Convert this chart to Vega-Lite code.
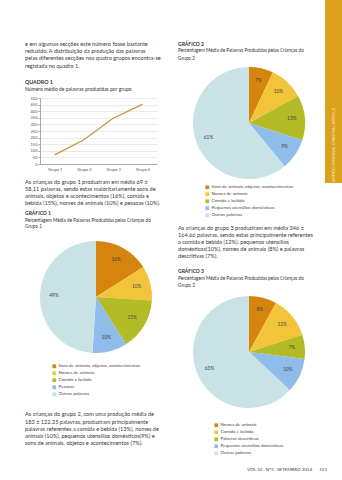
{
  "$schema": "https://vega.github.io/schema/vega-lite/v6.json",
  "background": "white",
  "padding": {"left": 25, "top": 0, "right": 0, "bottom": 0},
  "spacing": 11,
  "resolve": {"scale": {"color": "independent", "theta": "independent"}, "legend": {"color": "independent"}},
  "config": {
    "view": {"stroke": null},
    "font": "Lato",
    "legend": {"layout": {"bottom": {"anchor": "middle"}}},
    "axis": {"labelFont": "Lato", "labelColor": "#555"}
  },
  "hconcat": [
    {
      "spacing": 0,
      "resolve": {"scale": {"color": "independent", "theta": "independent"}, "legend": {"color": "independent"}},
      "vconcat": [
        {
          "width": 127, "height": 78.5,
          "data": {"values": [
            {"line": 1, "text": "e em algumas secções este número fosse bastante"},
            {"line": 2, "text": "reduzido. A distribuição da produção das palavras"},
            {"line": 3, "text": "pelas diferentes secções nos quatro grupos encontra-se"},
            {"line": 4, "text": "registada no quadro 1."}
          ]},
          "mark": {"type": "text", "align": "left", "baseline": "middle", "fontSize": 5.6, "color": "#3a3a3a"},
          "encoding": {
            "x": {"value": -15},
            "y": {"field": "line", "type": "quantitative", "scale": {"domain": [-5.2394, 5.8169], "reverse": true, "nice": false, "zero": false}, "axis": null},
            "text": {"field": "text"}
          }
        },
        {
          "width": 117, "height": 66,
          "title": {"text": "QUADRO 1", "subtitle": "Número médio de palavras produzidas por grupo", "anchor": "start", "frame": "group", "dx": -15, "fontSize": 5.3, "fontWeight": "bold", "subtitleFontSize": 5, "subtitlePadding": 2, "offset": 4, "color": "#333", "subtitleColor": "#333", "font": "Lato", "subtitleFont": "Lato"},
          "data": {"values": [
            {"grupo": "Grupo 1", "palavras": 69},
            {"grupo": "Grupo 2", "palavras": 183},
            {"grupo": "Grupo 3", "palavras": 346},
            {"grupo": "Grupo 4", "palavras": 452}
          ]},
          "mark": {"type": "line", "color": "#C8923C", "strokeWidth": 1.2},
          "encoding": {
            "x": {"field": "grupo", "type": "ordinal", "scale": {"type": "point", "padding": 0.5},
                  "axis": {"title": null, "labelAngle": 0, "labelFontSize": 4, "ticks": false, "labelPadding": 3, "domainColor": "#aaa", "grid": false}},
            "y": {"field": "palavras", "type": "quantitative", "scale": {"domain": [0, 500], "nice": false},
                  "axis": {"title": null, "values": [0, 50, 100, 150, 200, 250, 300, 350, 400, 450, 500], "labelFontSize": 4, "tickSize": 2, "tickColor": "#aaa", "labelPadding": 1, "domainColor": "#aaa", "gridDash": [1, 1], "gridColor": "#bbb", "gridWidth": 0.6}}
          }
        },
        {
          "width": 127, "height": 39,
          "data": {"values": [
            {"line": 1, "text": "As crianças do grupo 1 produziram em média 69 ±"},
            {"line": 2, "text": "58.11 palavras, sendo estas maioritariamente sons de"},
            {"line": 3, "text": "animais, objetos e acontecimentos (16%), comida e"},
            {"line": 4, "text": "bebida (15%), nomes de animais (10%) e pessoas (10%)."}
          ]},
          "mark": {"type": "text", "align": "left", "baseline": "middle", "fontSize": 5.6, "color": "#3a3a3a"},
          "encoding": {
            "x": {"value": -15},
            "y": {"field": "line", "type": "quantitative", "scale": {"domain": [-0.5493, 4.9437], "reverse": true, "nice": false, "zero": false}, "axis": null},
            "text": {"field": "text"}
          }
        },
        {
          "width": 112, "height": 112,
          "title": {"text": "GRÁFICO 1", "subtitle": ["Percentagem Média de Palavras Produzidas pelas Crianças do", "Grupo 1"], "anchor": "start", "frame": "group", "dx": -15, "fontSize": 5, "fontWeight": "bold", "subtitleFontSize": 4.7, "subtitleLineHeight": 6.7, "subtitlePadding": 1.9, "offset": 12, "color": "#333", "subtitleColor": "#333", "font": "Lato", "subtitleFont": "Lato"},
          "data": {"values": [
            {"categoria": "Sons de animais, objetos, acontecimentos", "share": 0.16, "k": 1},
            {"categoria": "Nomes de animais", "share": 0.10, "k": 2},
            {"categoria": "Comida e bebida", "share": 0.15, "k": 3},
            {"categoria": "Pessoas", "share": 0.10, "k": 4},
            {"categoria": "Outras palavras", "share": 0.49, "k": 5}
          ]},
          "encoding": {
            "theta": {"field": "share", "type": "quantitative", "stack": true},
            "order": {"field": "k", "type": "quantitative"}
          },
          "layer": [
            {
              "mark": {"type": "arc"},
              "encoding": {
                "color": {"field": "categoria", "type": "nominal",
                  "scale": {"domain": ["Sons de animais, objetos, acontecimentos", "Nomes de animais", "Comida e bebida", "Pessoas", "Outras palavras"], "range": ["#D5850E", "#F2C43A", "#B3BC27", "#8FBCE9", "#C9E2E6"]},
                  "legend": {"orient": "bottom", "direction": "vertical", "title": null, "symbolType": "square", "symbolSize": 14, "symbolStrokeWidth": 0, "labelFontSize": 4.5, "labelFont": "Lato", "labelColor": "#444", "rowPadding": 1, "offset": 10.5, "padding": 0, "labelOffset": 2, "labelLimit": 200}}
              }
            },
            {
              "mark": {"type": "text", "radius": 42, "fontSize": 4.8, "color": "#444"},
              "encoding": {"text": {"field": "share", "type": "quantitative", "format": ".0%"}}
            }
          ]
        },
        {
          "width": 127, "height": 50,
          "data": {"values": [
            {"line": 1, "text": "As crianças do grupo 2, com uma produção média de"},
            {"line": 2, "text": "183 ± 122.25 palavras,   produziram principalmente"},
            {"line": 3, "text": "palavras referentes a comida e bebida (13%), nomes de"},
            {"line": 4, "text": "animais (10%), pequenos utensílios domésticos(9%) e"},
            {"line": 5, "text": "sons de animais, objetos e acontecimentos (7%)."}
          ]},
          "mark": {"type": "text", "align": "left", "baseline": "middle", "fontSize": 5.6, "color": "#3a3a3a"},
          "encoding": {
            "x": {"value": -15},
            "y": {"field": "line", "type": "quantitative", "scale": {"domain": [-1.3862, 5.5104], "reverse": true, "nice": false, "zero": false}, "axis": null},
            "text": {"field": "text"}
          }
        }
      ]
    },
    {
      "spacing": 0,
      "resolve": {"scale": {"color": "independent", "theta": "independent"}, "legend": {"color": "independent"}},
      "vconcat": [
        {
          "spacing": 5,
          "resolve": {"scale": {"color": "independent", "theta": "independent"}, "legend": {"color": "independent"}},
          "hconcat": [
            {
              "spacing": 0,
              "resolve": {"scale": {"color": "independent", "theta": "independent"}, "legend": {"color": "independent"}},
              "vconcat": [
                {
                  "width": 142, "height": 67,
                  "data": {"values": [
                    {"line": 1, "text": "GRÁFICO 2", "role": "heading"},
                    {"line": 2, "text": "Percentagem Média de Palavras Produzidas pelas Crianças do", "role": "subtitle"},
                    {"line": 3, "text": "Grupo 2", "role": "subtitle"}
                  ]},
                  "encoding": {
                    "x": {"value": 0},
                    "y": {"field": "line", "type": "quantitative", "scale": {"domain": [-4.8667, 4.0667], "reverse": true, "nice": false, "zero": false}, "axis": null},
                    "text": {"field": "text"}
                  },
                  "layer": [
                    {"transform": [{"filter": "datum.role === 'heading'"}], "mark": {"type": "text", "align": "left", "baseline": "middle", "fontSize": 5, "fontWeight": "bold", "color": "#333"}},
                    {"transform": [{"filter": "datum.role === 'subtitle'"}], "mark": {"type": "text", "align": "left", "baseline": "middle", "fontSize": 4.7, "color": "#333"}}
                  ]
                },
                {
                  "width": 142, "height": 112,
                  "data": {"values": [
                    {"categoria": "Sons de animais, objetos, acontecimentos", "share": 0.07, "k": 1},
                    {"categoria": "Nomes de animais", "share": 0.10, "k": 2},
                    {"categoria": "Comida e bebida", "share": 0.13, "k": 3},
                    {"categoria": "Pequenos utensílios domésticos", "share": 0.09, "k": 4},
                    {"categoria": "Outras palavras", "share": 0.61, "k": 5}
                  ]},
                  "encoding": {
                    "theta": {"field": "share", "type": "quantitative", "stack": true},
                    "order": {"field": "k", "type": "quantitative"}
                  },
                  "layer": [
                    {
                      "mark": {"type": "arc"},
                      "encoding": {
                        "color": {"field": "categoria", "type": "nominal",
                          "scale": {"domain": ["Sons de animais, objetos, acontecimentos", "Nomes de animais", "Comida e bebida", "Pequenos utensílios domésticos", "Outras palavras"], "range": ["#D5850E", "#F2C43A", "#B3BC27", "#8FBCE9", "#C9E2E6"]},
                          "legend": {"orient": "bottom", "direction": "vertical", "title": null, "symbolType": "square", "symbolSize": 14, "symbolStrokeWidth": 0, "labelFontSize": 4.5, "labelFont": "Lato", "labelColor": "#444", "rowPadding": 1, "offset": 6, "padding": 0, "labelOffset": 2, "labelLimit": 200}}
                      }
                    },
                    {
                      "mark": {"type": "text", "radius": 43, "fontSize": 4.8, "color": "#444"},
                      "encoding": {"text": {"field": "share", "type": "quantitative", "format": ".0%"}}
                    }
                  ]
                }
              ]
            },
            {
              "width": 17, "height": 183,
              "data": {"values": [{"rotulo": "ARTIGO ORIGINAL  ORIGINAL ARTICLE"}]},
              "layer": [
                {"mark": {"type": "rect", "color": "#DBA11B"}, "encoding": {}},
                {"mark": {"type": "text", "angle": 270, "fontSize": 4.2, "color": "#FFF4D6", "align": "center", "baseline": "middle"},
                 "encoding": {"text": {"field": "rotulo"}, "x": {"value": 8.5}, "y": {"value": 145}}}
              ]
            }
          ]
        },
        {
          "width": 142, "height": 49.3,
          "data": {"values": [
            {"line": 1, "text": "As crianças do grupo 3 produziram em média  346 ±"},
            {"line": 2, "text": "164.66 palavras, sendo estas principalmente referentes"},
            {"line": 3, "text": "a comida e bebida (12%), pequenos utensílios"},
            {"line": 4, "text": "domésticos(10%), nomes de animais (8%) e palavras"},
            {"line": 5, "text": "descritivas (7%)."}
          ]},
          "mark": {"type": "text", "align": "left", "baseline": "middle", "fontSize": 5.6, "color": "#3a3a3a"},
          "encoding": {
            "x": {"value": 0},
            "y": {"field": "line", "type": "quantitative", "scale": {"domain": [-0.3759, 6.617], "reverse": true, "nice": false, "zero": false}, "axis": null},
            "text": {"field": "text"}
          }
        },
        {
          "width": 142, "height": 112,
          "title": {"text": "GRÁFICO 3", "subtitle": ["Percentagem Média de Palavras Produzidas pelas Crianças do", "Grupo 3"], "anchor": "start", "frame": "group", "fontSize": 5, "fontWeight": "bold", "subtitleFontSize": 4.7, "subtitleLineHeight": 7, "subtitlePadding": 2.4, "offset": 8.4, "color": "#333", "subtitleColor": "#333", "font": "Lato", "subtitleFont": "Lato"},
          "data": {"values": [
            {"categoria": "Nomes de animais", "share": 0.08, "k": 1},
            {"categoria": "Comida e bebida", "share": 0.12, "k": 2},
            {"categoria": "Palavras descritivas", "share": 0.07, "k": 3},
            {"categoria": "Pequenos utensílios domésticos", "share": 0.10, "k": 4},
            {"categoria": "Outras palavras", "share": 0.63, "k": 5}
          ]},
          "encoding": {
            "theta": {"field": "share", "type": "quantitative", "stack": true},
            "order": {"field": "k", "type": "quantitative"}
          },
          "layer": [
            {
              "mark": {"type": "arc"},
              "encoding": {
                "color": {"field": "categoria", "type": "nominal",
                  "scale": {"domain": ["Nomes de animais", "Comida e bebida", "Palavras descritivas", "Pequenos utensílios domésticos", "Outras palavras"], "range": ["#D5850E", "#F2C43A", "#B3BC27", "#8FBCE9", "#C9E2E6"]},
                  "legend": {"orient": "bottom", "direction": "vertical", "title": null, "symbolType": "square", "symbolSize": 14, "symbolStrokeWidth": 0, "labelFontSize": 4.5, "labelFont": "Lato", "labelColor": "#444", "rowPadding": 1, "offset": 14.75, "padding": 0, "labelOffset": 2, "labelLimit": 200}}
              }
            },
            {
              "mark": {"type": "text", "radius": 43, "fontSize": 4.8, "color": "#444"},
              "encoding": {"text": {"field": "share", "type": "quantitative", "format": ".0%"}}
            }
          ]
        },
        {
          "width": 149, "height": 20,
          "data": {"values": [{"line": 1, "text": "VOL 32 , Nº3 , SETEMBRO 2014\u00a0\u00a0\u00a0\u00a0\u00a0\u00a0151"}]},
          "mark": {"type": "text", "align": "right", "baseline": "middle", "fontSize": 4.5, "color": "#444"},
          "encoding": {
            "x": {"value": 149},
            "y": {"field": "line", "type": "quantitative", "scale": {"domain": [-1, 1.857], "reverse": true, "nice": false, "zero": false}, "axis": null},
            "text": {"field": "text"}
          }
        }
      ]
    }
  ]
}
